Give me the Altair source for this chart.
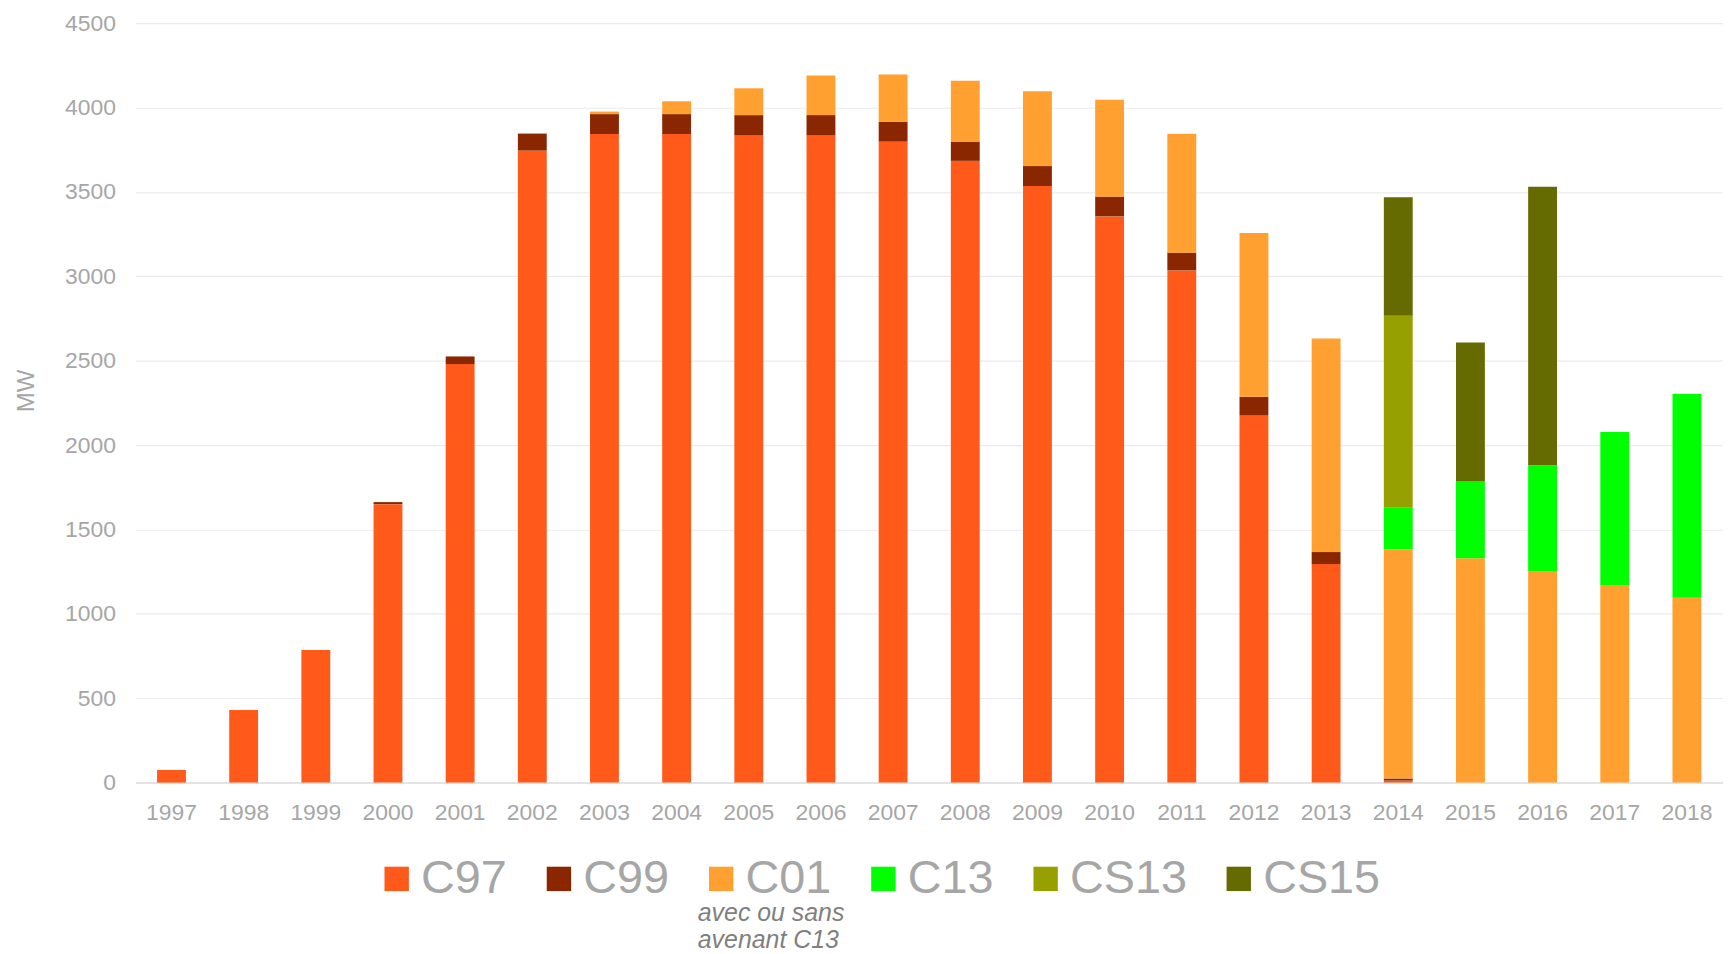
import altair as alt
import pandas as pd

years = [str(y) for y in range(1997, 2019)]
series = ["C97", "C99", "C01", "C13", "CS13", "CS15"]
colors = ["#FF5A19", "#8B2700", "#FFA030", "#00FF00", "#96A000", "#656B00"]

c97 = [75, 430, 785, 1650, 2480, 3745, 3843, 3843, 3835, 3835, 3798, 3684, 3535, 3355, 3035, 2175, 1295, 12, 0, 0, 0, 0]
c99 = [0, 0, 0, 12, 45, 98, 118, 118, 120, 120, 118, 112, 118, 117, 105, 111, 71, 12, 0, 0, 0, 0]
c01 = [0, 0, 0, 0, 0, 6, 15, 76, 159, 235, 280, 363, 443, 574, 704, 971, 1265, 1358, 1329, 1254, 1171, 1095]
c13 = [0, 0, 0, 0, 0, 0, 0, 0, 0, 0, 0, 0, 0, 0, 0, 0, 0, 246, 455, 626, 906, 1208]
cs13 = [0, 0, 0, 0, 0, 0, 0, 0, 0, 0, 0, 0, 0, 0, 0, 0, 0, 1138, 0, 0, 0, 0]
cs15 = [0, 0, 0, 0, 0, 0, 0, 0, 0, 0, 0, 0, 0, 0, 0, 0, 0, 703, 823, 1650, 0, 0]

note_lines = ["avec ou sans", "avenant C13"]

values = {"C97": c97, "C99": c99, "C01": c01, "C13": c13, "CS13": cs13, "CS15": cs15}
rows = []
for i, s in enumerate(series):
    for y, v in zip(years, values[s]):
        if v > 0:
            rows.append({"year": y, "series": s, "rank": i, "mw": v})
df = pd.DataFrame(rows)

FONT = "Liberation Sans"
GRAY = "#A6A6A6"

bars = alt.Chart(df).mark_bar().encode(
    x=alt.X("year:N", sort=years,
            scale=alt.Scale(paddingInner=0.6, paddingOuter=0.3),
            axis=alt.Axis(title=None, labelAngle=0, labelFontSize=23, labelColor=GRAY,
                          labelFont=FONT, ticks=False, tickSize=0, domainColor="#E3E3E3",
                          domainWidth=2, labelPadding=19, grid=False)),
    y=alt.Y("mw:Q", stack="zero",
            scale=alt.Scale(domain=[0, 4500], nice=False),
            axis=alt.Axis(title="MW", values=list(range(0, 4501, 500)), format="d",
                          labelFontSize=23, labelColor=GRAY, labelFont=FONT, ticks=False,
                          tickSize=0, domain=False, labelPadding=20, gridColor="#EBEBEB",
                          gridWidth=1.2, titleFont=FONT, titleFontSize=24, titleColor=GRAY,
                          titleFontWeight="normal", titleX=-109, titleY=369,
                          titleAlign="center", titleBaseline="middle", titleAngle=270)),
    color=alt.Color("series:N", scale=alt.Scale(domain=series, range=colors),
                    legend=alt.Legend(title=None, orient="none", direction="horizontal",
                                      legendX=239, legendY=836, symbolType="square",
                                      symbolSize=600, symbolStrokeWidth=0, labelFontSize=47,
                                      labelFont=FONT, labelColor=GRAY, labelOffset=1,
                                      columnPadding=28, padding=0, labelLimit=300)),
    order=alt.Order("rank:Q", sort="ascending"),
)

note_df = pd.DataFrame({"line": note_lines, "i": [0, 1]})
note = alt.Chart(note_df).mark_text(
    align="left", baseline="alphabetic", fontStyle="italic", fontSize=25,
    font=FONT, color="#7F7F7F"
).encode(
    x=alt.value(565),
    y=alt.Y("i:Q", scale=alt.Scale(domain=[0, 1], range=[902, 929]), axis=None),
    text="line:N",
)

chart = alt.layer(bars, note).resolve_scale(y="independent").properties(
    width=1595, height=763,
    autosize=alt.AutoSizeParams(type="none"),
    padding={"left": 128, "top": 13, "right": 0, "bottom": 170},
).configure_view(stroke=None)

chart.save("out.html", embed_options={"renderer": "svg", "actions": False})
